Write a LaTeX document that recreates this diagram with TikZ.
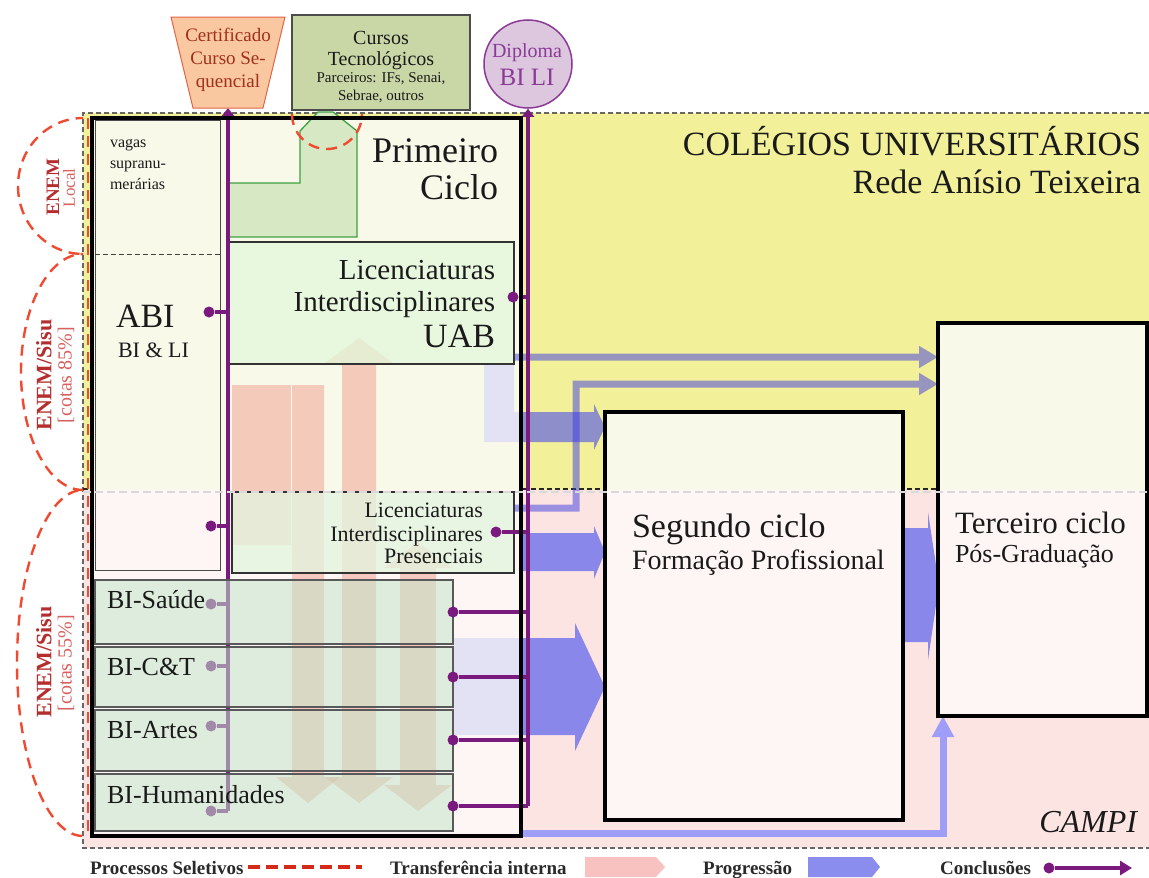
\documentclass[tikz,border=0pt]{standalone}
\usepackage{fontspec}
\setmainfont{Liberation Serif}
\usetikzlibrary{arrows.meta}
\newcommand\fsz[1]{\fontsize{#1}{#1}\selectfont}

\definecolor{yelbg}{HTML}{F3F09A}
\definecolor{pinkbg}{HTML}{FCE4E3}
\definecolor{paleyel}{HTML}{F9F9EA}
\definecolor{palepink}{HTML}{FEF5F5}
\definecolor{uabgreen}{HTML}{E1F8DB}
\definecolor{presgreen}{HTML}{E3F6DE}
\definecolor{bigreen}{HTML}{C2E6C9}
\definecolor{techgreen}{HTML}{C9D7A7}
\definecolor{lgreen}{HTML}{D6E8C4}
\definecolor{dgreen}{HTML}{3FA03F}
\definecolor{purp}{HTML}{7A1A7E}
\definecolor{purpl}{HTML}{8B3A96}
\definecolor{circfill}{HTML}{DCC7DF}
\definecolor{trapfill}{HTML}{F9C7A0}
\definecolor{trapline}{HTML}{E0654A}
\definecolor{traptext}{HTML}{A0301E}
\definecolor{seldash}{HTML}{F04A30}
\definecolor{enemdark}{HTML}{B52E2E}
\definecolor{enemlight}{HTML}{D86060}
\definecolor{salmon}{HTML}{EE9282}
\definecolor{progblue}{HTML}{8987E9}
\definecolor{progyel}{HTML}{8E8ECB}
\definecolor{paleblue}{HTML}{E2E2F4}
\definecolor{thinblue}{HTML}{3C3CE0}
\definecolor{lightblue}{HTML}{9E9EF8}
\definecolor{legtext}{HTML}{2A2A2A}
\definecolor{legred}{HTML}{D42A1A}
\definecolor{legpink}{HTML}{F8C2C0}
\definecolor{legblue}{HTML}{8A8CEE}
\definecolor{bodytext}{HTML}{1A1A1A}

\begin{document}
\begin{tikzpicture}[x=1pt,y=-1pt,
  txt/.style={inner sep=0pt, outer sep=0pt, text=bodytext},
  boxshape/.style={inner sep=0pt, outer sep=0pt, anchor=north west},
  regionborder/.style={draw=black!60, line width=1.1pt, dash pattern=on 5pt off 3pt},
  selproc/.style={draw=seldash, line width=2.4pt, dash pattern=on 11pt off 7pt},
  cyclebox/.style={draw=black, line width=3.6pt},
  dot/.style={circle, fill=purp, inner sep=0pt, minimum size=11pt},
  concl/.style={draw=purp, line width=3.5pt},
  transfer/.style={fill=salmon, fill opacity=0.45},
  thinprog/.style={draw=thinblue, line width=7pt, -{Triangle[length=19pt,width=21pt]}},
  lightprog/.style={draw=lightblue, line width=7pt, -{Triangle[length=21pt,width=21pt]}},
  bibox/.style={boxshape, draw=black!65, line width=1.6pt, fill=bigreen, fill opacity=0.55, minimum width=358pt},
  legend/.style={inner sep=0pt, anchor=base west, text=legtext, font=\bfseries\fsz{19}},
]
% canvas
\fill[white] (0,0) rectangle (1149,878);
\useasboundingbox (0,0) rectangle (1149,878);

% regions: colleges (yellow) and campi (pink)
\fill[yelbg] (83,113) rectangle (1149,490);
\fill[pinkbg] (83,490) rectangle (1149,848);
\draw[regionborder] (1149,113) -- (83,113) -- (83,848) -- (1149,848);
\draw[regionborder, draw=black!85] (83,489) -- (1149,489);

% cycle boxes (shapes only; borders later)
\node[boxshape, minimum width=429pt, minimum height=718pt] (pc) at (92,118) {};
\node[boxshape, minimum width=298pt, minimum height=408pt] (seg) at (605,412) {};
\node[boxshape, minimum width=209pt, minimum height=393pt] (ter) at (938,323) {};
\fill[paleyel] (pc.north west) rectangle (pc.east |- 0,490);
\fill[palepink] (pc.west |- 0,490) rectangle (pc.south east);
\fill[paleyel] (seg.north west) rectangle (seg.east |- 0,490);
\fill[palepink] (seg.west |- 0,490) rectangle (seg.south east);
\fill[paleyel] (ter.north west) rectangle (ter.east |- 0,490);
\fill[palepink] (ter.west |- 0,490) rectangle (ter.south east);

% progression arrows
\fill[paleblue] (484,365) -- (514,365) -- (514,412) -- (521,412) -- (521,442) -- (484,442) -- cycle;
\fill[progyel] (521,412) -- (594,412) -- (594,404) -- (605,427) -- (594,450) -- (594,442) -- (521,442) -- cycle;
\fill[progblue] (521,533) -- (594,533) -- (594,526) -- (605,552) -- (594,579) -- (594,571) -- (521,571) -- cycle;
\fill[paleblue] (453,638) rectangle (521,735);
\fill[progblue] (521,638) -- (575,638) -- (575,623) -- (605,687) -- (575,751) -- (575,735) -- (521,735) -- cycle;
\fill[progblue] (903,528) -- (928,528) -- (928,512) -- (939,585) -- (928,660) -- (928,642) -- (903,642) -- cycle;

% progression towards the third cycle
\coordinate (a1s) at (514,357);
\coordinate (a2s) at (514,508);
\coordinate (a2k) at (576,508);
\coordinate (a2u) at (576,384);
\coordinate (a3k) at (943,833);
\begin{scope}[transparency group, opacity=0.5]
  \draw[thinprog] (a1s) -- (a1s -| ter.west);
\end{scope}
\begin{scope}[transparency group, opacity=0.5]
  \draw[thinprog] (a2s) -- (a2k) -- (a2u) -- (a2u -| ter.west);
\end{scope}
\draw[lightprog] (pc.south east |- a3k) -- (a3k) -- (a3k |- ter.south);

% left column: supernumerary places and ABI
\node[boxshape, draw=black!70, line width=1pt, minimum width=125pt, minimum height=450pt] (col) at (95,120) {};
\draw[black!75, line width=1pt, dash pattern=on 5pt off 3pt] (col.west |- 0,254) -- (col.east |- 0,254);

% internal transfers
\fill[transfer] (232,385) rectangle (291,545);
\fill[transfer] (292,385) -- (324,385) -- (324,777) -- (340,777) -- (308,803) -- (276,777) -- (292,777) -- cycle;
\fill[transfer] (359,338) -- (393,363) -- (376,363) -- (376,777) -- (393,777) -- (359,803) -- (325,777) -- (342,777) -- (342,363) -- (325,363) -- cycle;
\fill[transfer] (418,542) -- (452,568) -- (436,568) -- (436,785) -- (452,785) -- (418,811) -- (384,785) -- (400,785) -- (400,568) -- (384,568) -- cycle;

% first cycle courses
\node[boxshape, draw=black!80, line width=1.1pt, fill=uabgreen, fill opacity=0.75, minimum width=287pt, minimum height=122pt] (uab) at (227,242) {};
\node[boxshape, draw=black!80, line width=1.1pt, fill=presgreen, fill opacity=0.75, minimum width=282pt, minimum height=81pt] (pres) at (232,492) {};

% technological courses link
\draw[draw=dgreen, fill=lgreen, line width=1.3pt] (228,237) -- (228,183) -- (300,183) -- (300,131) -- (318,112) -- (333,112) -- (357,131) -- (357,237) -- cycle;

% conclusion lines
\coordinate (ltop) at (228,108);
\coordinate (lbot) at (228,811);
\node[circle, draw=purpl, line width=1.5pt, fill=circfill, minimum size=88pt, inner sep=0pt] (dipl) at (528,64) {};
\coordinate (rbot) at (528,806);
\draw[concl, -{Triangle[length=8pt,width=12pt]}] (lbot) -- (ltop);
\draw[concl, -{Triangle[length=8pt,width=12pt]}] (rbot) -- (dipl.south);

\node[dot] (dabi) at (209,312) {};
\node[dot] (dlip) at (211,526) {};
\draw[concl] (dabi) -- (dabi -| ltop);
\draw[concl] (dlip) -- (dlip -| ltop);
\node[dot] (dbs) at (211,604) {};
\node[dot] (dbc) at (211,666) {};
\node[dot] (dba) at (211,726) {};
\node[dot] (dbh) at (211,811) {};
\foreach \d in {dbs,dbc,dba,dbh} \draw[concl] (\d) -- (\d -| ltop);

% BI boxes
\node[bibox, minimum height=64pt] (bis) at (95,580) {};
\node[bibox, minimum height=60pt] (bic) at (95,647) {};
\node[bibox, minimum height=61pt] (bia) at (95,710) {};
\node[bibox, minimum height=57pt] (bih) at (95,774) {};

% right side conclusions
\node[dot] (duab) at (513,297) {};
\node[dot] (dpres) at (496,532) {};
\node[dot] (dbs2) at (453,612) {};
\node[dot] (dbc2) at (453,677) {};
\node[dot] (dba2) at (453,740) {};
\node[dot] (dbh2) at (453,806) {};
\foreach \d in {duab,dpres,dbs2,dbc2,dba2,dbh2} \draw[concl] (\d) -- (\d -| rbot);

% cycle borders
\draw[cyclebox] (pc.north west) rectangle (pc.south east);
\draw[cyclebox] (seg.north west) rectangle (seg.south east);
\draw[cyclebox] (ter.north west) rectangle (ter.south east);
\draw[black!15, line width=1.5pt, dash pattern=on 8pt off 4pt] (83,492) -- (1149,492);

% exits at the top
\draw[draw=trapline, fill=trapfill, line width=1pt] (171,17) -- (285,17) -- (263,108) -- (193,108) -- cycle;
\node[boxshape, draw=black!70, fill=techgreen, line width=1.2pt, minimum width=178pt, minimum height=95pt] (cursos) at (292,15) {};
\draw[selproc] (292,114) arc[start angle=180, end angle=0, radius=35];

% selection processes
\draw[selproc] (88,118) -- (88,836);
\begin{scope}
  \clip (0,100) rectangle (83,860);
  \draw[selproc] (83,186) ellipse [x radius=65, y radius=68];
  \draw[selproc] (83,372) ellipse [x radius=62, y radius=118];
  \draw[selproc] (83,663) ellipse [x radius=66, y radius=173];
\end{scope}
\node[txt, rotate=90, text=enemdark, font=\bfseries\fsz{19}] (enl) at (53,187) {ENEM};
\node[txt, rotate=90, text=enemlight, font=\fsz{17}] (locl) at (69,188) {Local};
\node[txt, rotate=90, text=enemdark, font=\bfseries\fsz{22}] (en85) at (44,375) {ENEM/Sisu};
\node[txt, rotate=90, text=enemlight, font=\fsz{20}] (c85) at (66,375) {[cotas 85\%]};
\node[txt, rotate=90, text=enemdark, font=\bfseries\fsz{22}] (en55) at (44,662) {ENEM/Sisu};
\node[txt, rotate=90, text=enemlight, font=\fsz{20}] (c55) at (66,663) {[cotas 55\%]};

% texts
\node[txt, anchor=base, text=traptext, font=\fsz{19}] (t1) at (228,41) {Certificado};
\node[txt, anchor=base, text=traptext, font=\fsz{19}] (t2) at (228,64) {Curso Se-};
\node[txt, anchor=base, text=traptext, font=\fsz{19}] (t3) at (228,87) {quencial};
\node[txt, anchor=base, font=\fsz{20}] (c1) at (381,44) {Cursos};
\node[txt, anchor=base, font=\fsz{20}] (c2) at (381,65) {Tecnológicos};
\node[txt, anchor=base, font=\fsz{15}] (c3) at (381,82) {Parceiros: IFs, Senai,};
\node[txt, anchor=base, font=\fsz{15}] (c4) at (381,100) {Sebrae, outros};
\node[txt, anchor=base, text=purpl, font=\fsz{20}] (d1) at (527,57) {Diploma};
\node[txt, anchor=base, text=purpl, font=\fsz{25}] (d2) at (527,85) {BI LI};

\node[txt, anchor=base east, font=\fsz{34}] (col1) at (1141,155) {COLÉGIOS UNIVERSITÁRIOS};
\node[txt, anchor=base east, font=\fsz{34}] (col2) at (1141,193) {Rede Anísio Teixeira};
\node[txt, anchor=base east, font=\itshape\fsz{32}] (campi) at (1137,832) {CAMPI};

\node[txt, anchor=base east, font=\fsz{36}] (p1) at (498,162) {Primeiro};
\node[txt, anchor=base east, font=\fsz{36}] (p2) at (498,199) {Ciclo};
\node[txt, anchor=base west, font=\fsz{16}] (v1) at (110,147) {vagas};
\node[txt, anchor=base west, font=\fsz{16}] (v2) at (110,168) {supranu-};
\node[txt, anchor=base west, font=\fsz{16}] (v3) at (110,189) {merárias};
\node[txt, anchor=base west, font=\fsz{34}] (abi1) at (116,327) {ABI};
\node[txt, anchor=base west, font=\fsz{22}] (abi2) at (118,357) {BI \& LI};

\node[txt, anchor=base east, font=\fsz{29}] (u1) at (495,279) {Licenciaturas};
\node[txt, anchor=base east, font=\fsz{29}] (u2) at (495,311) {Interdisciplinares};
\node[txt, anchor=base east, font=\fsz{34}] (u3) at (495,347) {UAB};
\node[txt, anchor=base east, font=\fsz{22}] (l1) at (483,517) {Licenciaturas};
\node[txt, anchor=base east, font=\fsz{22}] (l2) at (483,541) {Interdisciplinares};
\node[txt, anchor=base east, font=\fsz{22}] (l3) at (483,563) {Presenciais};

\node[txt, anchor=base west, font=\fsz{26}] (b1) at (107,608) {BI-Saúde};
\node[txt, anchor=base west, font=\fsz{26}] (b2) at (107,675) {BI-C\&T};
\node[txt, anchor=base west, font=\fsz{26}] (b3) at (107,738) {BI-Artes};
\node[txt, anchor=base west, font=\fsz{26}] (b4) at (107,803) {BI-Humanidades};

\node[txt, anchor=base west, font=\fsz{34}] (s1) at (632,537) {Segundo ciclo};
\node[txt, anchor=base west, font=\fsz{28}] (s2) at (632,569) {Formação Profissional};
\node[txt, anchor=base west, font=\fsz{31}] (s3) at (955,533) {Terceiro ciclo};
\node[txt, anchor=base west, font=\fsz{26}] (s4) at (955,562) {Pós-Graduação};

% legend
\node[legend] (lg1) at (90,874) {Processos Seletivos};
\draw[legred, line width=4pt, dash pattern=on 12pt off 6pt] (lg1.east |- 0,867) ++(4,0) coordinate (lg1a) -- ++(114,0) coordinate (lg1b);
\node[legend] (lg2) at (390,874) {Transferência interna};
\fill[legpink] (585,857) -- (656,857) -- (665,867) -- (656,877) -- (585,877) -- cycle;
\node[legend] (lg3) at (703,874) {Progressão};
\fill[legblue] (808,857) -- (872,857) -- (880,867) -- (872,877) -- (808,877) -- cycle;
\node[legend] (lg4) at (940,874) {Conclusões};
\node[dot] (lgd) at (1049,868) {};
\coordinate (lge) at (1132,868);
\draw[concl, -{Triangle[length=12pt,width=14pt]}] (lgd) -- (lge);
\end{tikzpicture}
\end{document}
